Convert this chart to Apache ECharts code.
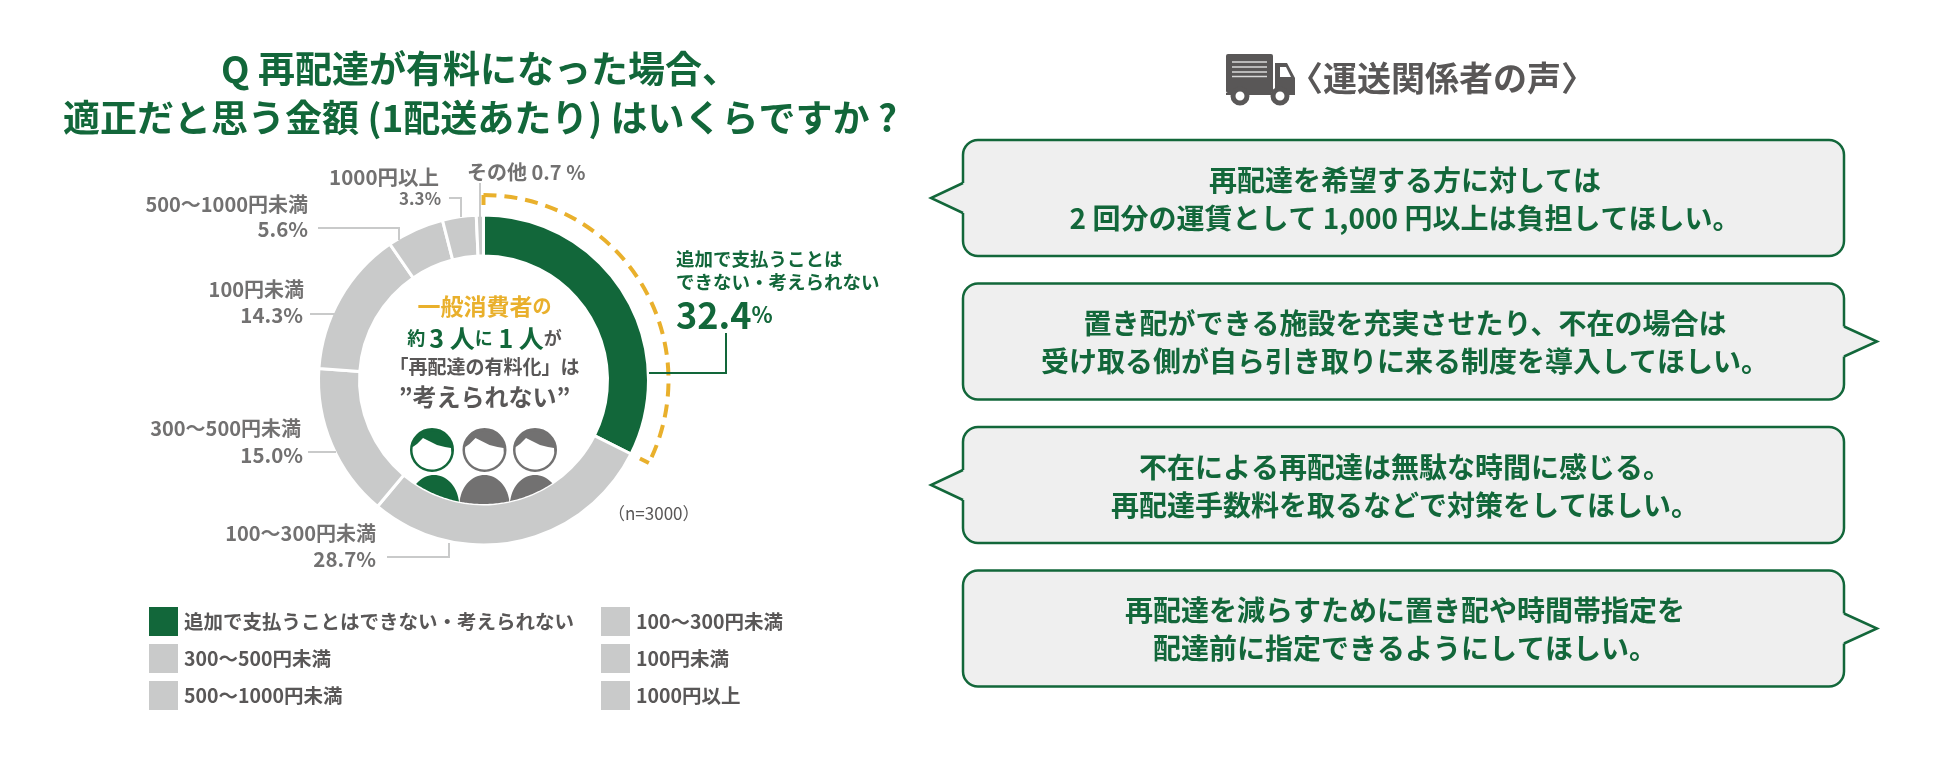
<!DOCTYPE html>
<html lang="ja">
<head>
<meta charset="utf-8">
<title>再配達の有料化</title>
<style>
html,body{margin:0;padding:0;background:#fff;}
#main{width:1950px;height:774px;}
</style>
<script src="https://cdn.jsdelivr.net/npm/echarts@6/dist/echarts.min.js"></script>
</head>
<body>
<div id="main"></div>
<script>
// data
var categories = ['追加で支払うことはできない・考えられない', '100～300円未満', '300～500円未満', '100円未満', '500～1000円未満', '1000円以上', 'その他'];
var values = [32.4, 28.7, 15.0, 14.3, 5.6, 3.3, 0.7];
var legendLeft = ['追加で支払うことはできない・考えられない', '300～500円未満', '500～1000円未満'];
var legendRight = ['100～300円未満', '100円未満', '1000円以上'];
var voices = [
    ['再配達を希望する方に対しては', '2 回分の運賃として 1,000 円以上は負担してほしい。'],
    ['置き配ができる施設を充実させたり、不在の場合は', '受け取る側が自ら引き取りに来る制度を導入してほしい。'],
    ['不在による再配達は無駄な時間に感じる。', '再配達手数料を取るなどで対策をしてほしい。'],
    ['再配達を減らすために置き配や時間帯指定を', '配達前に指定できるようにしてほしい。']
];

var GREEN = '#12673a', GRAY = '#c9caca', LABEL = '#727171', DARK = '#595757', GOLD = '#e9b02c';
var FONT = '"Noto Sans CJK JP", sans-serif';
var CX = 483.5, CY = 380, R_IN = 124, R_OUT = 165;

var g = [];

function text(x, y, s, size, color, align, extra) {
    var st = {
        x: x, y: y, text: s, fill: color,
        font: 'bold ' + size + 'px ' + FONT,
        textAlign: align || 'left', textVerticalAlign: 'middle'
    };
    if (extra) {
        st.rich = extra;
    }
    g.push({type: 'text', z: 10, style: st});
}
function line(pts, color, w) {
    g.push({type: 'polyline', z: 5, shape: {points: pts}, style: {stroke: color, lineWidth: w || 2, fill: null}});
}

// 吹き出し
function bubble(top, side, lines) {
    var x = 963, w = 881, h = 116, c = top + 58;
    g.push({type: 'rect', z: 2, shape: {x: x, y: top, width: w, height: h, r: 15}, style: {fill: '#efefef', stroke: GREEN, lineWidth: 2.5}});
    var ex = side === 'left' ? x : x + w;
    var tip = side === 'left' ? x - 32 : x + w + 33;
    var inner = side === 'left' ? ex + 3 : ex - 3;
    g.push({type: 'polygon', z: 3, shape: {points: [[inner, c - 15], [ex, c - 15], [tip, c], [ex, c + 15], [inner, c + 15]]}, style: {fill: '#efefef'}});
    g.push({type: 'polyline', z: 4, shape: {points: [[ex, c - 15], [tip, c], [ex, c + 15]]}, style: {stroke: GREEN, lineWidth: 2.5, fill: null}});
    text(1405, top + 40, lines[0], 28, GREEN, 'center');
    text(1405, top + 78, lines[1], 28, GREEN, 'center');
}
voices.forEach(function (v, i) {
    bubble(140 + i * 143.5, i % 2 === 0 ? 'left' : 'right', v);
});

// タイトル
text(480, 69, 'Q 再配達が有料になった場合、', 37, GREEN, 'center');
text(480, 118, '適正だと思う金額 (1配送あたり) はいくらですか ?', 37, GREEN, 'center');

// トラック
g.push({type: 'rect', z: 3, shape: {x: 1226, y: 54, width: 47, height: 39, r: 2}, style: {fill: DARK}});
g.push({type: 'polygon', z: 3, shape: {points: [[1275, 63], [1287, 63], [1295, 78], [1295, 95], [1226, 95], [1226, 93], [1275, 93]]}, style: {fill: DARK}});
g.push({type: 'polygon', z: 4, shape: {points: [[1280, 67], [1286, 67], [1291, 77], [1280, 77]]}, style: {fill: '#fff'}});
[62, 67, 72, 76.5].forEach(function (y) {
    line([[1232, y], [1267, y]], '#d8d8d8', 1.5);
});
[1240, 1280].forEach(function (x) {
    g.push({type: 'circle', z: 4, shape: {cx: x, cy: 96, r: 7}, style: {fill: '#fff', stroke: DARK, lineWidth: 5}});
});
text(1442, 78, '〈運送関係者の声〉', 34, DARK, 'center');

// 外側の点線: 緑の扇形と同じ角度
var greenAngle = values[0] / values.reduce(function (a, b) { return a + b; }, 0) * Math.PI * 2;
var R_DASH = 185;
g.push({type: 'arc', z: 5,
    shape: {cx: CX, cy: CY, r: R_DASH, startAngle: -Math.PI / 2, endAngle: -Math.PI / 2 + greenAngle, clockwise: true},
    style: {stroke: GOLD, lineWidth: 4, fill: null, lineDash: [13, 8]}});
line([[CX, CY - R_DASH], [CX, CY - R_DASH + 10]], GOLD, 4);
var ea = -Math.PI / 2 + greenAngle;
line([[CX + R_DASH * Math.cos(ea), CY + R_DASH * Math.sin(ea)], [CX + (R_DASH - 10) * Math.cos(ea), CY + (R_DASH - 10) * Math.sin(ea)]], GOLD, 4);

// ラベルと引き出し線
line([[480, 183], [480, 217]], GRAY);
line([[449, 198], [461, 198], [461, 217]], GRAY);
line([[318, 228], [399, 228], [399, 240]], GRAY);
line([[310, 314], [336, 314]], GRAY);
line([[308, 452], [336, 452]], GRAY);
line([[387, 557], [449, 557], [449, 543]], GRAY);
line([[649, 373], [726, 373], [726, 333]], GREEN);

text(467, 172, 'その他 0.7 %', 20, LABEL);
text(439, 177, '1000円以上', 20.5, LABEL, 'right');
text(441, 199, '3.3%', 17, LABEL, 'right');
text(308, 204, '500～1000円未満', 20, LABEL, 'right');
text(308, 229, '5.6%', 20.5, LABEL, 'right');
text(304, 289, '100円未満', 20, LABEL, 'right');
text(303, 315, '14.3%', 20.5, LABEL, 'right');
text(301, 428, '300～500円未満', 20, LABEL, 'right');
text(303, 455, '15.0%', 20.5, LABEL, 'right');
text(376, 533, '100～300円未満', 20, LABEL, 'right');
text(376, 559, '28.7%', 20.5, LABEL, 'right');

text(676, 259, '追加で支払うことは', 18.5, GREEN);
text(676, 282, 'できない・考えられない', 18.5, GREEN);
text(676, 315, '{a|32.4}{b|%}', 36, GREEN, 'left', {
    a: {font: 'bold 36px ' + FONT, fill: GREEN},
    b: {font: 'bold 22px ' + FONT, fill: GREEN}
});
g.push({type: 'text', z: 10, style: {x: 608, y: 514, text: '（n=3000）', fill: DARK, font: '17px ' + FONT, textVerticalAlign: 'middle'}});

// 中央のテキスト
var TX = 484.5;
text(TX, 306, '{a|一般消費者}{b|の}', 23, GOLD, 'center', {
    a: {font: 'bold 23px ' + FONT, fill: GOLD},
    b: {font: 'bold 19px ' + FONT, fill: GOLD}
});
text(TX, 338, '{s|約 }{n|3 人}{s|に}{n| 1 人}{d|が}', 18, GREEN, 'center', {
    s: {font: 'bold 18px ' + FONT, fill: GREEN},
    n: {font: 'bold 25px ' + FONT, fill: GREEN},
    d: {font: 'bold 18px ' + FONT, fill: DARK}
});
text(TX, 367, '「再配達の有料化」は', 19, DARK, 'center');
text(TX, 397, '”考えられない”', 24, DARK, 'center');

// 人のアイコン
function person(hx, bx, color) {
    var r = 20.5, pts = [], i, a;
    g.push({type: 'circle', z: 6, shape: {cx: hx, cy: 450, r: r}, style: {fill: color, stroke: color, lineWidth: 3}});
    // 顔: 円の下側と前髪の曲線
    for (i = 0; i <= 24; i++) {
        a = 0.05 * Math.PI + Math.PI * i / 24;
        pts.push([hx + (r - 1) * Math.cos(a), 450 + (r - 1) * Math.sin(a)]);
    }
    pts.push([hx - 15, 444], [hx - 9, 438], [hx - 3, 441], [hx + 5, 445], [hx + 13, 447], [hx + 19, 448]);
    g.push({type: 'polygon', z: 7, shape: {points: pts}, style: {fill: '#fff'}});
    // 体: 内側の円で切る
    var body = [];
    for (i = 0; i < 72; i++) {
        a = i / 72 * Math.PI * 2;
        var x = bx + 25 * Math.cos(a), y = 505 + 30 * Math.sin(a);
        var d = Math.sqrt((x - CX) * (x - CX) + (y - CY) * (y - CY));
        if (d > R_IN) {
            x = CX + (x - CX) * R_IN / d;
            y = CY + (y - CY) * R_IN / d;
        }
        body.push([x, y]);
    }
    g.push({type: 'polygon', z: 6, shape: {points: body}, style: {fill: color}});
}
person(432, 434, GREEN);
person(484.5, 484.5, LABEL);
person(535, 535, LABEL);

var colors = categories.map(function (c, i) { return i === 0 ? GREEN : GRAY; });
var legendText = {color: DARK, fontFamily: FONT, fontWeight: 'bold', fontSize: 19.5};

var option = {
    backgroundColor: '#fff',
    animation: false,
    color: colors,
    legend: [
        {data: legendLeft, orient: 'vertical', left: 147, top: 605, itemWidth: 31, itemHeight: 31, itemGap: 4,
            selectedMode: false, textStyle: legendText, icon: 'rect', padding: 0},
        {data: legendRight, orient: 'vertical', left: 599, top: 605, itemWidth: 31, itemHeight: 31, itemGap: 4,
            selectedMode: false, textStyle: legendText, icon: 'rect', padding: 0}
    ],
    series: [{
        type: 'pie',
        center: [CX, CY],
        radius: [R_IN, R_OUT],
        startAngle: 90,
        silent: true,
        label: {show: false},
        labelLine: {show: false},
        itemStyle: {borderColor: '#fff', borderWidth: 3},
        data: categories.map(function (c, i) { return {name: c, value: values[i]}; })
    }],
    graphic: {elements: g}
};

var myChart = echarts.init(document.getElementById('main'), null, {renderer: 'canvas'});
myChart.setOption(option);
window.addEventListener('resize', function () {
    myChart.resize();
});
</script>
</body>
</html>
